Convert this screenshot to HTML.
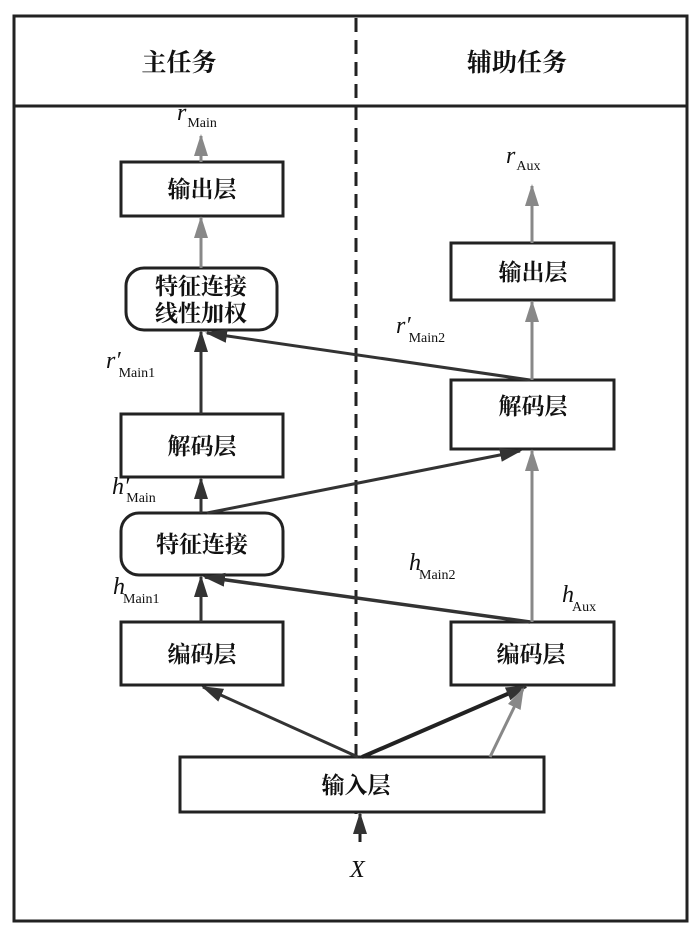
<!DOCTYPE html>
<html><head><meta charset="utf-8"><style>
html,body{margin:0;padding:0;background:#fff;}
svg{display:block;}
.cn{font-family:"Liberation Serif","Noto Serif CJK SC","Noto Sans CJK SC",serif;font-size:23px;fill:#111;text-anchor:middle;font-weight:bold;}
.it{font-family:"Liberation Serif",serif;font-style:italic;font-size:24px;fill:#111;}
.sub{font-family:"Liberation Serif",serif;font-style:normal;font-size:14px;fill:#111;}
</style></head><body>
<svg width="700" height="929" viewBox="0 0 700 929" xmlns="http://www.w3.org/2000/svg">
<defs>
<marker id="adl" markerWidth="22" markerHeight="14" refX="20" refY="7" orient="auto" markerUnits="userSpaceOnUse" viewBox="0 0 22 14"><path d="M0,0 L22,7 L0,14 z" fill="#333"/></marker>
<marker id="agl" markerWidth="22" markerHeight="14" refX="20" refY="7" orient="auto" markerUnits="userSpaceOnUse" viewBox="0 0 22 14"><path d="M0,0 L22,7 L0,14 z" fill="#888"/></marker>
</defs>
<rect x="14" y="16" width="673" height="905" fill="none" stroke="#222" stroke-width="3"/>
<line x1="14" y1="106" x2="687" y2="106" stroke="#222" stroke-width="3"/>
<line x1="356" y1="18" x2="356" y2="814" stroke="#222" stroke-width="3" stroke-dasharray="14,8"/>
<text class="cn" x="179" y="71" style="font-size:25px">主任务</text>
<text class="cn" x="517" y="71" style="font-size:25px">辅助任务</text>

<!-- nodes -->
<g fill="#fff" stroke="#222" stroke-width="3">
<rect x="121" y="162" width="162" height="54"/>
<rect x="126" y="268" width="151" height="62" rx="18"/>
<rect x="121" y="414" width="162" height="63"/>
<rect x="121" y="513" width="162" height="62" rx="18"/>
<rect x="121" y="622" width="162" height="63"/>
<rect x="451" y="243" width="163" height="57"/>
<rect x="451" y="380" width="163" height="69"/>
<rect x="451" y="622" width="163" height="63"/>
<rect x="180" y="757" width="364" height="55"/>
</g>

<!-- connectors -->
<g stroke-width="3" fill="none">
<line x1="201" y1="162" x2="201" y2="136" stroke="#888" marker-end="url(#agl)"/>
<line x1="201" y1="268" x2="201" y2="218" stroke="#888" marker-end="url(#agl)"/>
<line x1="532" y1="243" x2="532" y2="186" stroke="#888" marker-end="url(#agl)"/>
<line x1="532" y1="380" x2="532" y2="302" stroke="#888" marker-end="url(#agl)"/>
<line x1="530" y1="380" x2="207" y2="333" stroke="#333" marker-end="url(#adl)"/>
<line x1="201" y1="414" x2="201" y2="332" stroke="#333" marker-end="url(#adl)"/>
<line x1="201" y1="513" x2="201" y2="479" stroke="#333" marker-end="url(#adl)"/>
<line x1="207" y1="513" x2="520" y2="451" stroke="#333" marker-end="url(#adl)"/>
<line x1="532" y1="622" x2="532" y2="451" stroke="#888" marker-end="url(#agl)"/>
<line x1="530" y1="622" x2="205" y2="577" stroke="#333" stroke-width="3.5" marker-end="url(#adl)"/>
<line x1="201" y1="622" x2="201" y2="577" stroke="#333" marker-end="url(#adl)"/>
<line x1="358" y1="757" x2="203" y2="687" stroke="#333" marker-end="url(#adl)"/>
<line x1="362" y1="757" x2="526" y2="686" stroke="#222" stroke-width="4" marker-end="url(#adl)"/>
<line x1="490" y1="757" x2="523" y2="689" stroke="#888" marker-end="url(#agl)"/>
<line x1="360" y1="842" x2="360" y2="814" stroke="#222" marker-end="url(#adl)"/>
</g>

<text class="cn" x="202" y="197">输出层</text>
<text class="cn" x="201" y="294">特征连接</text>
<text class="cn" x="201" y="321">线性加权</text>
<text class="cn" x="202" y="454">解码层</text>
<text class="cn" x="202" y="552">特征连接</text>
<text class="cn" x="202" y="662">编码层</text>
<text class="cn" x="533" y="280">输出层</text>
<text class="cn" x="533" y="414">解码层</text>
<text class="cn" x="531" y="662">编码层</text>
<text class="cn" x="356" y="793">输入层</text>

<!-- labels -->
<text class="it" x="177" y="120">r<tspan class="sub" dx="1" dy="7">Main</tspan></text>
<text class="it" x="506" y="163">r<tspan class="sub" dx="1" dy="7">Aux</tspan></text>
<text class="it" x="396" y="333">r′<tspan class="sub" dx="-2" dy="9">Main2</tspan></text>
<text class="it" x="106" y="368">r′<tspan class="sub" dx="-2" dy="9">Main1</tspan></text>
<text class="it" x="112" y="494">h′<tspan class="sub" dx="-3" dy="8">Main</tspan></text>
<text class="it" x="409" y="570">h<tspan class="sub" dx="-2" dy="9">Main2</tspan></text>
<text class="it" x="113" y="594">h<tspan class="sub" dx="-2" dy="9">Main1</tspan></text>
<text class="it" x="562" y="602">h<tspan class="sub" dx="-2" dy="9">Aux</tspan></text>
<text class="it" x="350" y="877">X</text>
</svg>
</body></html>
